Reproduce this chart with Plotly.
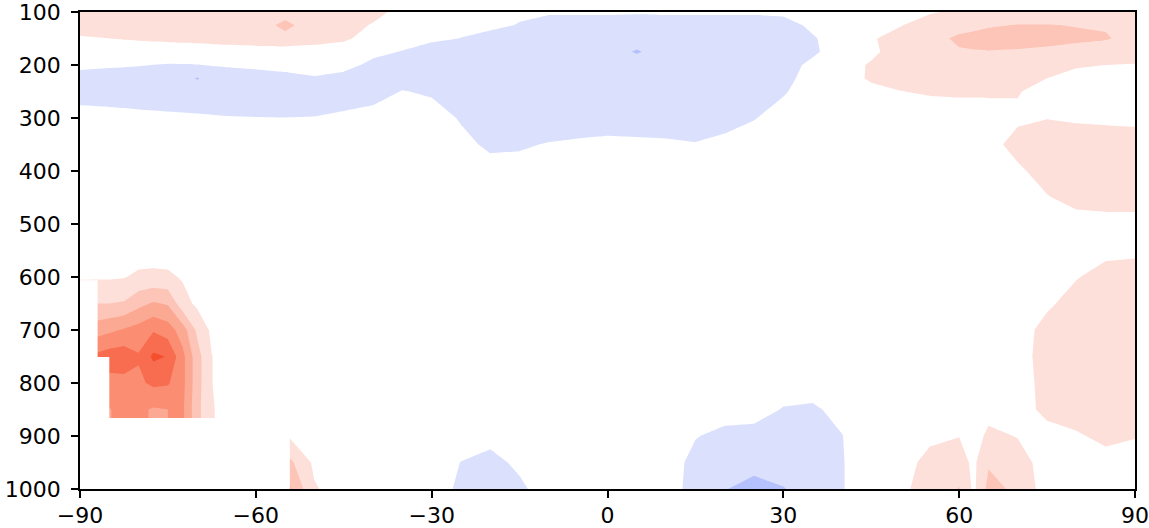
import plotly.graph_objects as go

# latitude grid (deg) and pressure levels (hPa)
lats = [-90, -87.5, -85, -82.5, -80, -77.5, -75, -72.5, -70, -67.5, -65,
        -60, -55, -50, -45, -40, -35, -30, -25, -20, -15, -10, -5, 0, 5, 10,
        15, 20, 25, 30, 35, 40, 45, 50, 55, 60,
        62.5, 65, 70, 75, 80, 85, 90]
levels = [100, 125, 150, 175, 200, 225, 250, 300, 350, 400, 450, 500, 550,
          600, 650, 700, 750, 800, 850, 900, 950, 1000]

# anomaly values (in contour-interval units), one row per level
z100 = [1.0, 1.0, 1.0, 1.0, 1.0, 1.0, 1.0, 1.0, 1.0, 1.0, 1.0,
        1.1, 1.2, 1.1, 1.0, 0.9, 0.1, -0.1, -0.2, -0.3, -0.35, -0.35, -0.35, -0.35, -0.4, -0.35,
        -0.35, -0.35, -0.35, -0.3, -0.1, 0.0, 0.1, 0.25, 0.4, 0.7,
        0.8, 0.9, 1.1, 1.1, 1.1, 1.1, 1.0]
z125 = [1.0, 1.0, 1.0, 1.0, 1.0, 1.0, 1.0, 1.0, 1.0, 1.0, 1.0,
        1.1, 1.7, 1.1, 1.0, 0.4, 0.0, -0.15, -0.25, -0.3, -0.55, -1.0, -1.0, -1.0, -1.0, -1.0,
        -1.0, -1.0, -1.0, -0.9, -0.3, 0.0, 0.2, 0.45, 1.0, 1.3,
        1.38, 1.45, 1.52, 1.52, 1.48, 1.45, 1.2]
z150 = [0.375, 0.45, 0.5, 0.55, 0.6, 0.65, 0.69, 0.74, 0.78, 0.87, 0.96,
        1.14, 1.25, 0.96, 0.66, 0.1, 0.0, -0.3, -0.52, -0.8, -1.0, -1.0, -1.0, -1.0, -1.0, -1.0,
        -1.0, -1.0, -1.0, -1.0, -0.6, 0.0, 0.4, 0.9, 1.3, 1.6,
        1.65, 1.7, 1.7, 1.65, 1.6, 1.55, 1.3]
z175 = [0.0, 0.0, 0.0, 0.0, 0.0, 0.0, 0.0, 0.0, 0.0, 0.0, 0.0,
        0.0, 0.0, 0.0, 0.0, -0.2, -0.55, -1.0, -1.0, -1.0, -1.0, -1.0, -1.0, -1.0, -1.6, -1.0,
        -1.0, -1.0, -1.0, -1.0, -0.65, -0.05, 0.3, 0.95, 1.15, 1.45,
        1.47, 1.48, 1.45, 1.4, 1.3, 1.15, 1.0]
z200 = [-0.2, -0.28, -0.35, -0.4, -0.45, -0.51, -0.55, -0.54, -0.52, -0.46, -0.4,
        -0.25, -0.05, 0.0, -0.1, -0.8, -1.0, -1.0, -1.0, -1.0, -1.0, -1.0, -1.0, -1.0, -1.0, -1.0,
        -1.0, -1.0, -1.0, -0.85, -0.3, 0.1, 0.6, 0.9, 1.0, 1.05,
        1.05, 1.05, 1.0, 0.85, 0.6, 0.5, 0.45]
z225 = [-1.0, -1.0, -1.0, -1.0, -1.0, -1.0, -1.0, -1.0, -1.58, -1.0, -1.0,
        -1.0, -0.9, -0.6, -0.9, -1.0, -1.0, -1.0, -1.0, -1.0, -1.0, -1.0, -1.0, -1.0, -1.0, -1.0,
        -1.0, -1.0, -1.0, -0.8, -0.1, 0.0, 0.65, 0.85, 0.95, 0.95,
        0.95, 0.95, 0.85, 0.5, 0.2, 0.1, 0.1]
z250 = [-1.0, -1.0, -1.0, -1.0, -1.0, -1.0, -1.0, -1.0, -1.0, -1.0, -1.0,
        -1.0, -1.0, -1.0, -1.0, -1.0, -0.45, -0.65, -1.0, -1.0, -1.0, -1.0, -1.0, -1.0, -1.0, -1.0,
        -1.0, -1.0, -1.0, -0.6, 0.0, 0.0, 0.2, 0.48, 0.6, 0.65,
        0.65, 0.65, 0.55, 0.2, 0.1, 0.05, 0.05]
z300 = [-0.04, -0.09, -0.14, -0.2, -0.26, -0.3, -0.34, -0.37, -0.4, -0.43, -0.46,
        -0.48, -0.49, -0.47, -0.32, -0.04, 0.0, 0.0, -0.6, -1.0, -1.0, -1.0, -1.0, -1.0, -1.0, -1.0,
        -1.0, -1.0, -0.55, -0.1, 0.0, 0.0, 0.0, 0.0, 0.0, 0.0,
        0.0, 0.05, 0.35, 0.48, 0.4, 0.35, 0.3]
z350 = [0, 0, 0, 0, 0, 0, 0, 0, 0, 0, 0,
        0, 0, 0, 0, 0, 0, 0, -0.2, -0.7, -0.6, -0.45, -0.35, -0.25, -0.3, -0.35,
        -0.45, -0.15, 0.0, 0, 0, 0, 0, 0, 0, 0,
        0, 0.2, 0.8, 0.9, 0.9, 0.9, 0.9]
z400 = [0, 0, 0, 0, 0, 0, 0, 0, 0, 0, 0,
        0, 0, 0, 0, 0, 0, 0, 0, -0.1, -0.2, -0.1, 0, 0, 0, 0,
        0, 0, 0, 0, 0, 0, 0, 0, 0, 0,
        0, 0, 0.35, 0.85, 0.95, 0.95, 0.95]
z450 = [0, 0, 0, 0, 0, 0, 0, 0, 0, 0, 0,
        0, 0, 0, 0, 0, 0, 0, 0, 0, 0, 0, 0, 0, 0, 0,
        0, 0, 0, 0, 0, 0, 0, 0, 0, 0,
        0, 0, 0.1, 0.45, 0.75, 0.8, 0.8]
z500 = [0, 0, 0, 0, 0, 0, 0, 0, 0, 0, 0,
        0, 0, 0, 0, 0, 0, 0, 0, 0, 0, 0, 0, 0, 0, 0,
        0, 0, 0, 0, 0, 0, 0, 0, 0, 0,
        0, 0, 0, 0.05, 0.2, 0.25, 0.25]
z550 = [0, 0, 0, 0, 0, 0, 0, 0, 0, 0, 0,
        0, 0, 0, 0, 0, 0, 0, 0, 0, 0, 0, 0, 0, 0, 0,
        0, 0, 0, 0, 0, 0, 0, 0, 0, 0,
        0, 0, 0, 0, 0.1, 0.3, 0.35]
z600 = [0.4, 0.4, 0.4, 0.45, 0.7, 0.75, 0.7, 0.4, 0.2, 0.1, 0.0,
        0, 0, 0, 0, 0, 0, 0, 0, 0, 0, 0, 0, 0, 0, 0,
        0, 0, 0, 0, 0, 0, 0, 0, 0, 0,
        0, 0, 0, 0.1, 0.45, 0.8, 0.85]
z650 = [1.4, 1.5, 1.5, 1.6, 2.2, 2.6, 2.4, 0.9, 0.3, 0.1, 0.0,
        0, 0, 0, 0, 0, 0, 0, 0, 0, 0, 0, 0, 0, 0, 0,
        0, 0, 0, 0, 0, 0, 0, 0, 0, 0,
        0, 0, 0, 0.35, 0.85, 0.9, 0.9]
z700 = [2.8, 3.0, 3.3, 3.6, 3.9, 4.4, 4.0, 3.0, 1.3, 0.3, 0.0,
        0, 0, 0, 0, 0, 0, 0, 0, 0, 0, 0, 0, 0, 0, 0,
        0, 0, 0, 0, 0, 0, 0, 0, 0, 0,
        0, 0, 0.1, 0.8, 0.9, 0.9, 0.9]
z750 = [4.3, 4.7, 5.0, 5.1, 4.6, 5.7, 5.45, 3.8, 1.9, 0.52, 0.1,
        0, 0, 0, 0, 0, 0, 0, 0, 0, 0, 0, 0, 0, 0, 0,
        0, 0, 0, 0, 0, 0, 0, 0, 0, 0,
        0, 0, 0.15, 0.85, 0.9, 0.9, 0.9]
z800 = [3.8, 4.0, 4.2, 4.2, 4.3, 4.7, 4.6, 3.8, 1.9, 0.52, 0.1,
        0, 0, 0, 0, 0, 0, 0, 0, 0, 0, 0, 0, 0, 0, 0,
        0, 0, 0, -0.1, -0.2, 0, 0, 0, 0, 0,
        0, 0, 0.1, 0.8, 0.9, 0.9, 0.9]
z850 = [3.0, 3.2, 3.45, 3.8, 3.7, 3.4, 3.5, 3.7, 1.8, 0.6, 0.1,
        0, 0, 0, 0, 0, 0, 0, 0, 0, 0, 0, 0, 0, 0, 0,
        0, -0.1, -0.15, -0.55, -0.6, -0.3, 0, 0, 0, 0,
        0, 0.1, 0, 0.8, 0.9, 0.9, 0.9]
z900 = [3.0, 3.2, 3.45, 3.8, 3.7, 3.4, 3.5, 3.7, 1.8, 0.6, 0.1,
        0.0, 0.55, 0.0, 0, 0, 0, 0, 0, -0.2, 0, 0, 0, 0, 0, 0,
        -0.45, -0.75, -0.8, -0.9, -0.85, -0.52, 0, 0, 0.3, 0.48,
        0.0, 0.75, 0.45, 0.1, 0.4, 0.7, 0.55]
z950 = [3.0, 3.2, 3.45, 3.8, 3.7, 3.4, 3.5, 3.7, 1.8, 0.6, 0.1,
        1.5, 2.0, 0.3, 0, 0, 0, 0, -0.52, -0.8, -0.3, 0, 0, 0, 0, 0,
        -0.8, -1.0, -1.1, -1.05, -0.9, -0.55, 0, 0.1, 0.8, 0.9,
        0.3, 1.4, 1.0, 0.0, 0.1, 0.2, 0.1]
z1000 = [3.0, 3.2, 3.45, 3.8, 3.7, 3.4, 3.5, 3.7, 1.8, 0.6, 0.1,
         2.5, 3.0, 0.6, 0, 0, 0, 0, -0.7, -0.9, -0.7, 0, 0, 0, 0, 0,
         -0.9, -1.45, -1.9, -1.55, -1.0, -0.55, 0, 0.3, 0.9, 1.55,
         0.3, 1.8, 1.3, 0.0, 0.0, 0.0, 0.0]

z_rows = [z100, z125, z150, z175, z200, z225, z250, z300, z350, z400, z450,
          z500, z550, z600, z650, z700, z750, z800, z850, z900, z950, z1000]

# below-ground (masked) area over Antarctica: outline of the masked region
mask_lat = [-90, -87, -87, -85, -85, -54.2, -54.2, -90]
mask_p = [606, 606, 751, 751, 866, 866, 1000, 1000]

band_colors = ["#b4c1fc", "#dbe1fd", "#ffffff", "#fee0da", "#fdc4b8",
               "#fca994", "#fa8d72", "#f86c4f", "#f5502e"]
n = len(band_colors) - 1
colorscale = [[i / n, c] for i, c in enumerate(band_colors)]

xticks = [-90, -60, -30, 0, 30, 60, 90]
xticklabels = ["\u221290", "\u221260", "\u221230", "0", "30", "60", "90"]
yticks = [100, 200, 300, 400, 500, 600, 700, 800, 900, 1000]
yticklabels = [str(v) for v in yticks]

fig = go.Figure()
fig.add_trace(go.Contour(
    x=lats, y=levels, z=z_rows,
    autocontour=False,
    contours=dict(start=-1.5, end=5.5, size=1, coloring="fill", showlines=False),
    line=dict(width=0, smoothing=0),
    colorscale=colorscale, showscale=False, hoverinfo="skip",
))
fig.add_trace(go.Scatter(
    x=mask_lat, y=mask_p, mode="lines", fill="toself",
    fillcolor="#ffffff", line=dict(width=0, color="#ffffff"),
    hoverinfo="skip", showlegend=False,
))

axis_common = dict(showline=True, linecolor="black", linewidth=1.6, mirror=True,
                   ticks="outside", ticklen=7, tickwidth=1.6, tickcolor="black",
                   showgrid=False, zeroline=False, automargin=False,
                   ticklabeloverflow="allow",
                   tickfont=dict(family="DejaVu Sans", size=22, color="black"))
fig.update_xaxes(range=[-90, 90], tickvals=xticks, ticktext=xticklabels,
                 ticklabelstandoff=-1, **axis_common)
fig.update_yaxes(range=[1000, 100], tickvals=yticks, ticktext=yticklabels,
                 ticklabelstandoff=6, **axis_common)

fig.update_layout(
    width=1149, height=528,
    margin=dict(l=80, r=14, t=12, b=39, pad=0),
    paper_bgcolor="white", plot_bgcolor="white",
    showlegend=False,
)

fig.write_html("out.html", config={"displayModeBar": False},
               post_script="document.body.style.margin='0';document.body.style.overflow='hidden';")
